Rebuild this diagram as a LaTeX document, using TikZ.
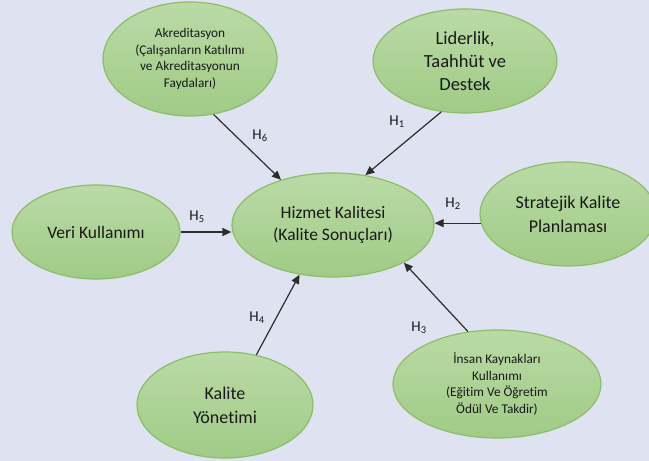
\documentclass[tikz,border=0pt]{standalone}
\usepackage{fontspec}
\setmainfont[Ligatures=CommonOff]{Carlito}
\usetikzlibrary{shapes.geometric,arrows.meta}
\definecolor{bg}{RGB}{223,226,240}
\definecolor{ftop}{RGB}{186,218,166}
\definecolor{fbot}{RGB}{160,203,134}
\definecolor{edge}{RGB}{140,190,106}
\definecolor{txt}{RGB}{25,25,25}
\definecolor{arrc}{RGB}{45,45,45}
\tikzset{
  oval/.style={ellipse, draw=edge, line width=1.2bp, top color=ftop, bottom color=fbot,
    inner sep=0pt, align=center, text=txt},
  big/.style={font=\fontsize{17.5bp}{22bp}\selectfont},
  small/.style={font=\fontsize{13.3bp}{16.8bp}\selectfont},
  arr/.style={draw=arrc, line width=1.2bp, -{Triangle[length=9bp,width=8bp]}},
  hlab/.style={font=\fontsize{15bp}{16bp}\selectfont, text=txt, inner sep=0pt}
}
\begin{document}
\begin{tikzpicture}[x=1bp,y=-1bp]
\fill[bg] (0,0) rectangle (649,461);
\useasboundingbox (0,0) rectangle (649,461);
\node[oval, small, minimum width=174bp, minimum height=114bp] (akr) at (190,59)
  {Akreditasyon\\(Çalışanların Katılımı\\ve Akreditasyonun\\Faydaları)};
\node[oval, big, font=\fontsize{18.5bp}{23bp}\selectfont, minimum width=184bp, minimum height=104bp] (lid) at (465,61)
  {Liderlik,\\Taahhüt ve\\Destek};
\node[oval, big, font=\fontsize{18bp}{24bp}\selectfont, minimum width=176bp, minimum height=104bp] (str) at (568,214)
  {Stratejik Kalite\\Planlaması};
\node[oval, big, minimum width=168bp, minimum height=94bp] (ver) at (96,232)
  {Veri Kullanımı};
\node[oval, big, minimum width=202bp, minimum height=104bp] (hiz) at (333,225)
  {Hizmet Kalitesi\\(Kalite Sonuçları)};
\node[oval, big, font=\fontsize{18bp}{24bp}\selectfont, minimum width=176bp, minimum height=106bp] (kal) at (225,405)
  {Kalite\\Yönetimi};
\node[oval, small, minimum width=208bp, minimum height=108bp] (ins) at (497,384)
  {İnsan Kaynakları\\Kullanımı\\(Eğitim Ve Öğretim\\Ödül Ve Takdir)};
% arrows
\draw[arr] (akr.-67) -- (hiz.139);
\draw[arr] (lid.-115) -- (hiz.57);
\draw[arr] (str.186) -- (str.186 -| hiz.east);
\draw[arr] (ins.119) -- (hiz.-28);
\draw[arr] (kal.58) -- (hiz.-124);
\draw[arr] (ver.east) -- (ver.east -| hiz.west);
% labels
\node[hlab] (l6) at (260,136) {H\textsubscript{6}};
\node[hlab] (l1) at (397,122) {H\textsubscript{1}};
\node[hlab] (l2) at (453,204) {H\textsubscript{2}};
\node[hlab] (l3) at (419,328) {H\textsubscript{3}};
\node[hlab] (l4) at (257,318) {H\textsubscript{4}};
\node[hlab] (l5) at (197,217) {H\textsubscript{5}};
\end{tikzpicture}
\end{document}
